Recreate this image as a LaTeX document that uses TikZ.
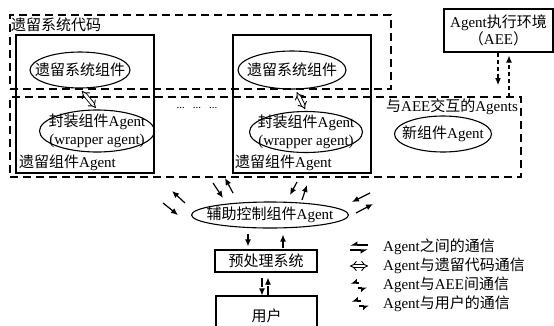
\documentclass[tikz,border=0pt]{standalone}
\usepackage{fontspec}
\setmainfont{Liberation Serif}
\newfontfamily\cjk{Noto Sans CJK SC}
\usetikzlibrary{arrows.meta,shapes.geometric}
\newcommand\zh[1]{{\cjk #1}}
\begin{document}
\begin{tikzpicture}[x=1pt,y=-1pt,
  every node/.style={font=\fontsize{15}{18}\selectfont, inner sep=0pt},
  box/.style={draw, line width=1.1pt},
  dbox/.style={draw, line width=1.1pt, dash pattern=on 8pt off 5pt},
  ell/.style={draw, ellipse, line width=1.1pt},
  txt/.style={align=center},
  aa/.style={line width=1.2pt, -{Latex[length=7pt,width=6pt]}},
  ae/.style={line width=1.1pt, dash pattern=on 4pt off 3pt, -{Latex[length=7pt,width=6pt]}},
  au/.style={line width=1.1pt, dash pattern=on 9pt off 2pt, -{Latex[length=7pt,width=6pt]}},
  lg/.style={line width=0.9pt, double, double distance=2.6pt, {Implies}-{Implies}},
  hp/.style={line width=1.2pt, -{Latex[harpoon,swap,length=6pt,width=8pt]}},
  hps/.style={line width=1.3pt, -{Latex[harpoon,swap,length=5pt,width=9pt]}},
]
\useasboundingbox (0,0) rectangle (554,325);

% dashed group boxes
\node[dbox, minimum width=381pt, minimum height=74pt] (code) at (200.5,52) {};
\node[dbox, minimum width=511pt, minimum height=80pt] (agents) at (265.5,137) {};
% legacy component agent boxes
\node[box, minimum width=138pt, minimum height=138pt] (b1) at (85,104) {};
\node[box, minimum width=138pt, minimum height=138pt] (b2) at (302,104) {};

% ellipses
\node[ell, minimum width=100pt, minimum height=36pt, label={center:\zh{遗留系统组件}}] (e1) at (80,70) {};
\node[ell, minimum width=108pt, minimum height=38pt, label={center:\zh{遗留系统组件}}] (e2) at (292,70) {};
\node[ell, minimum width=115pt, minimum height=42pt, label={[txt]center:{\zh{封装组件}Agent\\(wrapper agent)}}] (w1) at (97,131) {};
\node[ell, minimum width=113pt, minimum height=41pt, label={[txt]center:{\zh{封装组件}Agent\\(wrapper agent)}}] (w2) at (306,132) {};
\node[ell, minimum width=97pt, minimum height=36pt, label={center:\zh{新组件}Agent}] (new) at (443,134) {};
\node[ell, minimum width=157pt, minimum height=26pt, label={center:\zh{辅助控制组件}Agent}] (ctrl) at (270,215) {};

% other boxes
\node[box, minimum width=109pt, minimum height=43pt, txt, font=\fontsize{15}{16}\selectfont] (aee) at (498.5,30.5) {Agent\zh{执行环境}\\\zh{（}AEE\zh{）}};
\node[box, minimum width=102pt, minimum height=22pt] (pre) at (266,261) {\zh{预处理系统}};
\node[box, minimum width=101pt, minimum height=40pt] (user) at (266.5,316) {\zh{用户}};

% labels
\node[anchor=west] (codelbl) at (11,25) {\zh{遗留系统代码}};
\node[anchor=west] (b1lbl) at (19,163) {\zh{遗留组件}Agent};
\node[anchor=west] (b2lbl) at (235,163) {\zh{遗留组件}Agent};
\node[anchor=west] (aeelbl) at (386,107) {\zh{与}AEE\zh{交互的}Agents};
\node[font=\fontsize{11}{12}\selectfont] (dots) at (197,108) {...\hspace{8pt}...\hspace{8pt}...};

% legacy <-> wrapper
\draw[lg, shorten <=3pt, shorten >=2pt] (e1.south) -- (w1.north);
\draw[lg, shorten <=3pt, shorten >=2pt] (e2.-80) -- (w2.north);

% AEE communication
\coordinate (g1e) at (498,85);
\coordinate (g2s) at (509,97);
\draw[ae] (g1e |- aee.south) -- (g1e);
\draw[ae, shorten >=3pt] (g2s) -- (g2s |- aee.south);

% agent communication around the control agent
\coordinate (a1s) at (185,203); \coordinate (a1e) at (172,191);
\coordinate (a2s) at (163,203); \coordinate (a2e) at (178,215);
\coordinate (b1s) at (213,183); \coordinate (b1e) at (223,198);
\coordinate (b2s) at (233,193); \coordinate (b2e) at (225,178);
\coordinate (c1s) at (297,182); \coordinate (c1e) at (290,195);
\coordinate (c2s) at (302,200); \coordinate (c2e) at (307,185);
\coordinate (d1s) at (370,193); \coordinate (d1e) at (352,202);
\coordinate (d2s) at (356,213); \coordinate (d2e) at (373,204);
\draw[aa] (a1s) -- (a1e);
\draw[aa] (a2s) -- (a2e);
\draw[aa] (b1s) -- (b1e);
\draw[aa] (b2s) -- (b2e);
\draw[aa] (c1s) -- (c1e);
\draw[aa] (c2s) -- (c2e);
\draw[aa] (d1s) -- (d1e);
\draw[aa] (d2s) -- (d2e);

% control <-> preprocessing
\draw[aa, shorten <=5pt, shorten >=3pt] ([xshift=-22pt]ctrl.south) -- ([xshift=-18pt]pre.north);
\draw[aa, shorten <=1pt, shorten >=6pt] ([xshift=17pt]pre.north) -- ([xshift=13pt]ctrl.south);

% preprocessing <-> user
\draw[au, shorten <=5pt] ([xshift=-4pt]pre.south) -- ([xshift=-4.5pt]user.north);
\draw[au, shorten >=5pt] ([xshift=1.5pt]user.north) -- ([xshift=2pt]pre.south);

% legend
\node[anchor=west] (l1) at (383,247) {Agent\zh{之间的通信}};
\node[anchor=west] (l2) at (383,266) {Agent\zh{与遗留代码通信}};
\node[anchor=west] (l3) at (383,285) {Agent\zh{与}AEE\zh{间通信}};
\node[anchor=west] (l4) at (383,304) {Agent\zh{与用户的通信}};
\coordinate (s1a) at (368,245); \coordinate (s1b) at (350,245);
\coordinate (s1c) at (350,250); \coordinate (s1d) at (368,250);
\draw[hp] (s1a) -- (s1b);
\draw[hp] (s1c) -- (s1d);
\coordinate (s2a) at (350,266); \coordinate (s2b) at (368,266);
\draw[lg] (s2a) -- (s2b);
\coordinate (s3a) at (359,283); \coordinate (s3b) at (351,283);
\coordinate (s3c) at (358,288); \coordinate (s3d) at (367,288);
\draw[hps] (s3a) -- (s3b);
\draw[hps] (s3c) -- (s3d);
\coordinate (s4a) at (361,301); \coordinate (s4b) at (352,301);
\coordinate (s4c) at (359,306); \coordinate (s4d) at (369,306);
\draw[hps] (s4a) -- (s4b);
\draw[hps] (s4c) -- (s4d);
\end{tikzpicture}
\end{document}
